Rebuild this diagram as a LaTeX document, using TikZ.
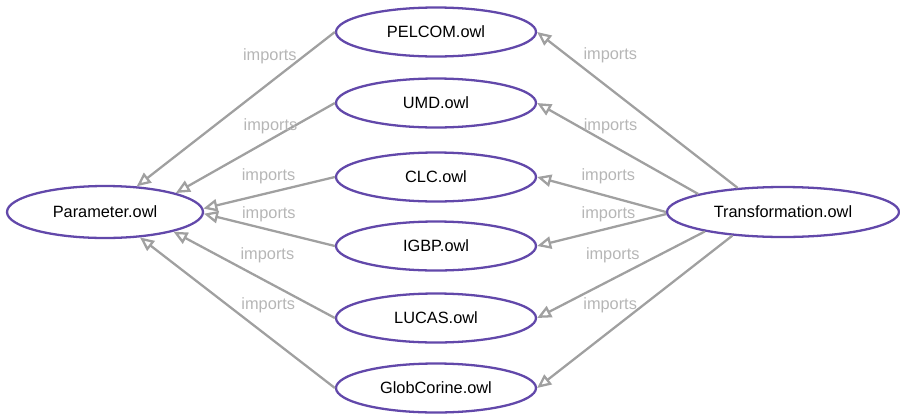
\documentclass[tikz,border=0pt]{standalone}
\usepackage{fontspec}
\setmainfont{Liberation Sans}
\usetikzlibrary{arrows.meta, shapes.geometric}

\definecolor{owlpurple}{RGB}{98,72,170}
\definecolor{edgegray}{RGB}{160,160,160}
\definecolor{lblgray}{RGB}{182,182,182}

\tikzset{
    owl/.style={ellipse, draw=owlpurple, line width=1.3pt, fill=white,
        minimum width=4cm, minimum height=0.98cm, inner sep=0pt,
        font=\fontsize{9.3}{11}\selectfont},
    imp/.style={draw=edgegray, line width=1.3pt,
        -{Triangle[open, length=8pt, width=7pt]}},
    lbl/.style={text=lblgray, inner sep=0pt, font=\fontsize{9.3}{11}\selectfont}
}

\begin{document}
\begin{tikzpicture}[x=0.02cm, y=-0.02cm]
            % 画布大小 (像素坐标)
            \useasboundingbox (0,0) rectangle (900,413);

            % 左边: Parameter
            \node[owl, minimum width=3.92cm, minimum height=1.04cm] (param) at (105,212) {Parameter.owl};

            % 中间一列数据集
            \node[owl] (pelcom) at (436,32) {PELCOM.owl};
            \node[owl] (umd) at (436,103) {UMD.owl};
            \node[owl] (clc) at (436,177) {CLC.owl};
            \node[owl] (igbp) at (436,246) {IGBP.owl};
            \node[owl] (lucas) at (436,318) {LUCAS.owl};
            \node[owl] (glob) at (436,388) {GlobCorine.owl};

            % 右边: Transformation
            \node[owl, minimum width=4.64cm, minimum height=1cm] (trans) at (783,212) {Transformation.owl};

            % 数据集 -> Parameter 的 imports 箭头
            \foreach \src/\ang/\p/\d in {pelcom/39/0.328/9.8pt, umd/15/0.405/2.3pt, clc/2/0.504/4.7pt,
                igbp/359/0.504/4.1pt, lucas/344/0.418/10pt, glob/324/0.342/12.9pt} {
                \draw[imp] (\src.west) -- node[lbl, pos=\p, above=\d] {imports} (param.\ang);
            }

            % Transformation -> 数据集 的 imports 箭头
            \foreach \dst/\ang/\p/\d in {pelcom/152/0.635/13.9pt, umd/168/0.544/5.4pt, clc/180/0.447/6.4pt,
                igbp/181/0.447/3.2pt, lucas/194/0.549/8.7pt, glob/205/0.626/9.6pt} {
                \draw[imp] (trans.\ang) -- node[lbl, pos=\p, above=\d] {imports} (\dst.east);
            }
        \end{tikzpicture}
\end{document}
